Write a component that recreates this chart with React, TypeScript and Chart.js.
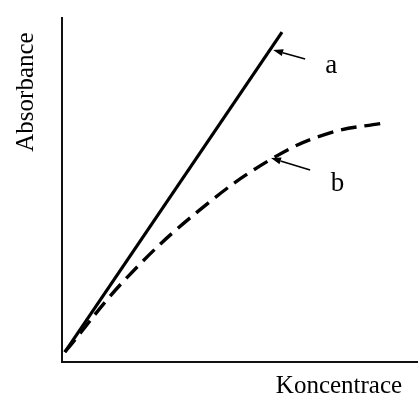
import React, { useEffect, useRef } from "react";
import { Chart, registerables } from "chart.js";

Chart.register(...registerables);

// Curve a (straight, solid)
const aX = [0.8, 61.8];
const aY = [2.9, 95.9];
// Curve b (bending, dashed)
const bX = [0.8, 18.3, 38.8, 59.3, 75.3, 90.4];
const bY = [2.9, 24.6, 44.3, 59.3, 66.6, 69.5];

const xTitle = "Koncentrace";
const yTitle = "Absorbance";
// annotation labels with arrow tip / tail (data coords) and label position
const labels = ["a", "b"];
const arrowTipX = [59.3, 58.7];
const arrowTipY = [90.7, 59.3];
const arrowTailX = [68.3, 69.7];
const arrowTailY = [88.1, 55.8];
const labelX = [75.6, 77.4];
const labelY = [84.0, 49.7];

const SERIF = '"Liberation Serif", "Times New Roman", serif';

const annotations = {
  id: "annotations",
  afterDatasetsDraw(chart: any) {
    const { ctx, chartArea, scales } = chart;
    const sx = scales.x;
    const sy = scales.y;
    ctx.save();
    ctx.fillStyle = "#000";
    ctx.strokeStyle = "#000";
    for (let i = 0; i < labels.length; i++) {
      const tx = sx.getPixelForValue(arrowTipX[i]);
      const ty = sy.getPixelForValue(arrowTipY[i]);
      const fx = sx.getPixelForValue(arrowTailX[i]);
      const fy = sy.getPixelForValue(arrowTailY[i]);
      const ang = Math.atan2(ty - fy, tx - fx);
      const head = 10;
      const hw = 3.5;
      const bx = tx - head * Math.cos(ang);
      const by = ty - head * Math.sin(ang);
      ctx.lineWidth = 1.6;
      ctx.beginPath();
      ctx.moveTo(fx, fy);
      ctx.lineTo(bx, by);
      ctx.stroke();
      ctx.beginPath();
      ctx.moveTo(tx, ty);
      ctx.lineTo(bx - hw * Math.sin(ang), by + hw * Math.cos(ang));
      ctx.lineTo(bx + hw * Math.sin(ang), by - hw * Math.cos(ang));
      ctx.closePath();
      ctx.fill();
      ctx.font = "27px " + SERIF;
      ctx.textAlign = "center";
      ctx.textBaseline = "alphabetic";
      ctx.fillText(labels[i], sx.getPixelForValue(labelX[i]), sy.getPixelForValue(labelY[i]));
    }
    ctx.font = "25px " + SERIF;
    ctx.textAlign = "center";
    ctx.textBaseline = "alphabetic";
    ctx.fillText(xTitle, chartArea.right - 79, chartArea.bottom + 31);
    ctx.translate(chartArea.left - 29, chartArea.top + 74);
    ctx.rotate(-Math.PI / 2);
    ctx.fillText(yTitle, 0, 0);
    ctx.restore();
  },
};

export default function App() {
  const ref = useRef<HTMLCanvasElement>(null);
  useEffect(() => {
    if (!ref.current) return;
    const axis = (min: number, max: number) => ({
      type: "linear" as const,
      min,
      max,
      grid: { display: false, drawTicks: false },
      ticks: { display: false },
      border: { display: true, color: "#111", width: 2 },
    });
    const chart = new Chart(ref.current, {
      type: "line",
      data: {
        datasets: [
          {
            label: "a",
            data: aX.map((x, i) => ({ x, y: aY[i] })),
            borderColor: "#000",
            borderWidth: 3.2,
            pointRadius: 0,
            tension: 0,
          },
          {
            label: "b",
            data: bX.map((x, i) => ({ x, y: bY[i] })),
            borderColor: "#000",
            borderWidth: 3.4,
            borderDash: [16, 8],
            pointRadius: 0,
            tension: 0.4,
          },
        ],
      },
      options: {
        responsive: false,
        animation: false,
        devicePixelRatio: 1,
        layout: { padding: { left: 62, top: 18, right: 0, bottom: 32 } },
        plugins: { legend: { display: false }, tooltip: { enabled: false } },
        scales: { x: axis(0, 100), y: axis(0, 100) },
      },
      plugins: [annotations],
    });
    return () => chart.destroy();
  }, []);
  return (
    <div style={{ position: "absolute", left: 0, top: 0, width: 418, height: 394, background: "#fff" }}>
      <canvas ref={ref} width={418} height={394} />
    </div>
  );
}
